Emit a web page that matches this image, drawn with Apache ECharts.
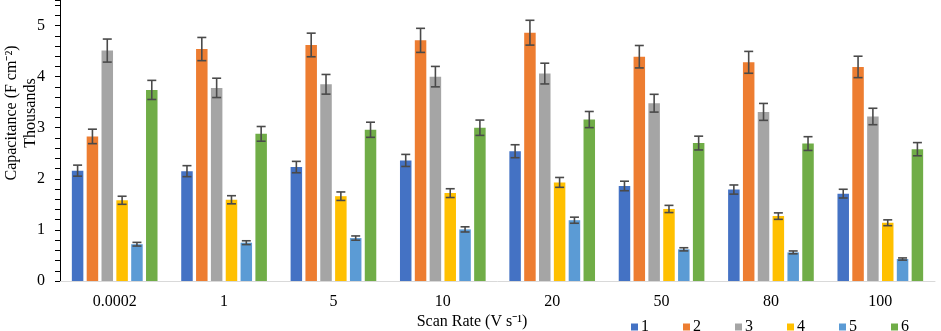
<!DOCTYPE html>
<html>
<head>
<meta charset="utf-8">
<script src="https://cdn.jsdelivr.net/npm/echarts@6/dist/echarts.min.js"></script>
<style>
  html, body { margin: 0; padding: 0; background: #fff; }
  #chart { width: 941px; height: 331px; }
</style>
</head>
<body>
<div id="chart"></div>
<script>
// scan rates (V s-1)
const categories = ['0.0002', '1', '5', '10', '20', '50', '80', '100']
const seriesNames = ['1', '2', '3', '4', '5', '6']
// capacitance (F cm-2)
const s1 = [2160, 2150, 2230, 2360, 2540, 1860, 1790, 1710]
const s2 = [2830, 4540, 4620, 4710, 4860, 4390, 4280, 4190]
const s3 = [4510, 3780, 3850, 4000, 4060, 3480, 3310, 3220]
const s4 = [1580, 1590, 1660, 1720, 1930, 1410, 1270, 1140]
const s5 = [720, 750, 840, 1010, 1190, 620, 560, 430]
const s6 = [3740, 2880, 2960, 3000, 3160, 2700, 2690, 2580]
// excel style percentage error bars
const errPct = 0.05

const allSeries = [s1, s2, s3, s4, s5, s6]
const colors = ['#4472C4', '#ED7D31', '#A5A5A5', '#FFC000', '#5B9BD5', '#70AD47']
const FONT = '"Liberation Serif", "Times New Roman", serif'
const BAR_W = 11.5
const BAR_GAP = 0.29

let chart = echarts.init(document.getElementById('chart'))

let series = []
allSeries.forEach((data, i) => {
  series.push({
    name: seriesNames[i],
    type: 'bar',
    data: data,
    barWidth: BAR_W,
    barGap: (BAR_GAP * 100) + '%',
    itemStyle: { color: colors[i] }
  })
})
// error bars, one custom series per bar series
allSeries.forEach((data, i) => {
  series.push({
    type: 'custom',
    z: 10,
    silent: true,
    data: data.map((v, k) => [k, v]),
    renderItem: (params, api) => {
      let k = api.value(0)
      let v = api.value(1)
      let e = v * errPct
      let offset = (i - (allSeries.length - 1) / 2) * BAR_W * (1 + BAR_GAP)
      let top = api.coord([k, v + e])
      let bot = api.coord([k, v - e])
      let x = top[0] + offset
      let cap = 4.5
      let style = { stroke: '#4a4a4a', lineWidth: 1.6 }
      return {
        type: 'group',
        children: [
          { type: 'line', shape: { x1: x, y1: top[1], x2: x, y2: bot[1] }, style: style },
          { type: 'line', shape: { x1: x - cap, y1: top[1], x2: x + cap, y2: top[1] }, style: style },
          { type: 'line', shape: { x1: x - cap, y1: bot[1], x2: x + cap, y2: bot[1] }, style: style }
        ]
      }
    }
  })
})

chart.setOption({
  animation: false,
  textStyle: { fontFamily: FONT },
  grid: { left: 60, right: 6, top: 0, bottom: 50 },
  legend: {
    data: seriesNames,
    left: 626,
    top: 314,
    itemWidth: 7,
    itemHeight: 7,
    itemGap: 34,
    icon: 'rect',
    textStyle: { fontFamily: FONT, fontSize: 16, color: '#000', padding: [0, 0, 0, -2] }
  },
  graphic: [
    {
      type: 'text', x: 12, y: 113, rotation: Math.PI / 2,
      style: { text: 'Capacitance (F cm⁻²)', font: '16px ' + FONT, fill: '#000', textAlign: 'center', textVerticalAlign: 'middle' }
    },
    {
      type: 'text', x: 31, y: 113, rotation: Math.PI / 2,
      style: { text: 'Thousands', font: '16px ' + FONT, fill: '#000', textAlign: 'center', textVerticalAlign: 'middle' }
    },
    {
      type: 'text', x: 472, y: 322,
      style: { text: 'Scan Rate (V s⁻¹)', font: '16px ' + FONT, fill: '#000', textAlign: 'center', textVerticalAlign: 'middle' }
    }
  ],
  xAxis: {
    type: 'category',
    data: categories,
    axisLine: { lineStyle: { color: '#d9d9d9', width: 1 } },
    axisTick: { show: false },
    axisLabel: { fontFamily: FONT, fontSize: 16, color: '#000', margin: 13 }
  },
  yAxis: {
    type: 'value',
    min: 0,
    max: 5500,
    interval: 200,
    splitLine: { show: false },
    axisLine: { show: true, lineStyle: { color: '#000', width: 1 } },
    axisTick: { show: true, length: 5, lineStyle: { color: '#000' } },
    axisLabel: {
      fontFamily: FONT,
      fontSize: 16,
      color: '#000',
      margin: 15,
      formatter: v => (v % 1000 === 0 ? String(v / 1000) : '')
    }
  },
  series: series
})
</script>
</body>
</html>
